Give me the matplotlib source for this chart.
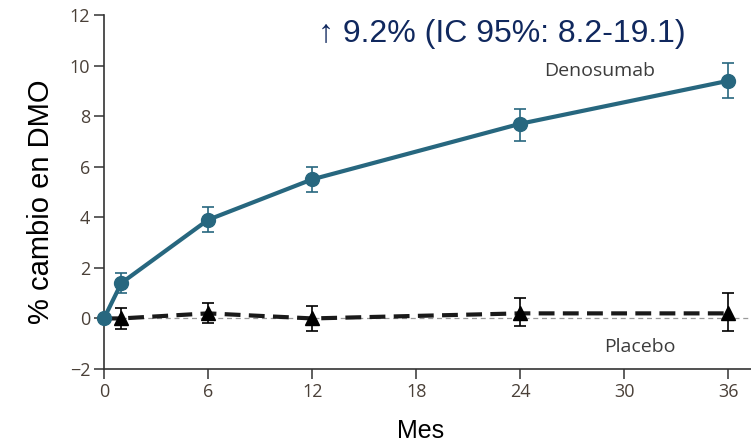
import matplotlib.pyplot as plt
import numpy as np

# BMD percent change over time, denosumab vs placebo
months_deno = [0, 1, 6, 12, 24, 36]
deno_mean = [0.0, 1.4, 3.9, 5.5, 7.7, 9.4]
deno_low = [0.0, 1.0, 3.4, 5.0, 7.0, 8.7]
deno_high = [0.0, 1.8, 4.4, 6.0, 8.3, 10.1]

months_plac = [0, 1, 6, 12, 24, 36]
plac_mean = [0.0, 0.0, 0.2, 0.0, 0.2, 0.2]
plac_low = [0.0, -0.4, -0.2, -0.5, -0.3, -0.5]
plac_high = [0.0, 0.4, 0.6, 0.5, 0.8, 1.0]

xticks = [0, 6, 12, 18, 24, 30, 36]
yticks = [-2, 0, 2, 4, 6, 8, 10, 12]

TEAL = '#27677f'
TICK_COL = '#4a4038'

fig = plt.figure(figsize=(7.51, 4.47), dpi=100)
ax = fig.add_axes([0.1385, 0.1745, 0.8615, 0.7919])

ax.axhline(0, color='#9a9a9a', lw=0.9, ls=(0, (4, 3)), zorder=1)

# placebo: dashed black with triangles (first point hidden under the circle)
pm = np.array(plac_mean)
perr = [pm - np.array(plac_low), np.array(plac_high) - pm]
ax.plot(months_plac, plac_mean, color='#1a1a1a', lw=3, ls=(0, (3.8, 2)), zorder=2)
ax.errorbar(months_plac[1:], plac_mean[1:], yerr=[perr[0][1:], perr[1][1:]],
            fmt='^', color='black', ms=10, elinewidth=1.2, capsize=4,
            capthick=1.2, zorder=3)

dm = np.array(deno_mean)
derr = [dm - np.array(deno_low), np.array(deno_high) - dm]
ax.plot(months_deno, deno_mean, color=TEAL, lw=3, zorder=4)
ax.errorbar(months_deno, deno_mean, yerr=derr, fmt='o', color=TEAL, ms=10,
            elinewidth=1.2, capsize=4, capthick=1.2, zorder=5)

ax.set_xlim(0, 37.3)
ax.set_ylim(-2, 12)
ax.set_xticks(xticks)
ax.set_yticks(yticks)
ax.set_yticklabels(['\u22122'] + [str(t) for t in yticks[1:]])
for s in ('top', 'right'):
    ax.spines[s].set_visible(False)
for s in ('left', 'bottom'):
    ax.spines[s].set_color('#333333')
    ax.spines[s].set_linewidth(1.2)
ax.spines['left'].set_bounds(-2, 12)
ax.tick_params(direction='out', length=7, width=1.1, color='#333333',
               labelsize=13, labelcolor=TICK_COL, pad=3)
for lab in ax.get_xticklabels() + ax.get_yticklabels():
    lab.set_family('Open Sans')
for art in ax.lines + ax.collections:
    art.set_clip_on(False)

ax.set_ylabel('% cambio en DMO', fontsize=21, family='Liberation Sans',
              color='black')
ax.yaxis.set_label_coords(-0.076, 0.472)
ax.set_xlabel('Mes', fontsize=18, family='Liberation Sans', color='black')
ax.xaxis.set_label_coords(0.49, -0.14)

ax.text(22.95, 11.25, '\u2191 9.2% (IC 95%: 8.2-19.1)', fontsize=23,
        family='Liberation Sans', color='#10285e', ha='center', va='center')
ax.text(28.6, 9.79, 'Denosumab', fontsize=14, family='Open Sans',
        color='#3c3c3c', ha='center', va='center')
ax.text(30.9, -1.13, 'Placebo', fontsize=14, family='Open Sans',
        color='#3c3c3c', ha='center', va='center')

fig.savefig('out.png', dpi=100)
